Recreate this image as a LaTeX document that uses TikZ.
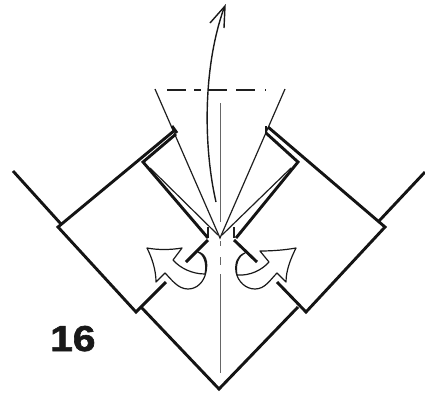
\documentclass[tikz,border=0pt]{standalone}
\usepackage{fontspec}
\setmainfont{Liberation Sans}
\newfontfamily\heavyfont[FakeBold=1.6]{Liberation Sans Bold}
\tikzset{
  thick edge/.style={line width=2.9pt,line cap=butt,line join=miter,draw=black!92},
  thin edge/.style={line width=1.2pt,draw=black!88},
  hair/.style={line width=.8pt,draw=black!60},
  foldarrow/.style={line width=1.2pt,fill=white,draw=black!90,line join=round},
  stepnum/.style={font=\heavyfont\fontsize{36}{36}\selectfont,text=black!90,inner sep=0pt,xscale=1.13}
}
\begin{document}
\begin{tikzpicture}[x=1pt,y=-1pt]
\useasboundingbox (0,0) rectangle (425,392);
% centre crease
\draw[hair] (220,103) -- (220,222);
\draw[hair] (220,241) -- (220,246) (220,257) -- (220,265) (220,274) -- (220,373);
% thin cone
\draw[thin edge] (155,89) -- (220,238) -- (285,89);
\draw[thin edge,dash pattern=on 19pt off 8pt on 7pt off 7pt on 19pt off 9pt on 19pt off 10pt on 1pt off 100pt] (167,90) -- (284,90);
\draw[thin edge] (150,168) -- (218,235);
\draw[thin edge] (291,168) -- (222,235);
\draw[thin edge] (208,227) -- (208,238) (234,227) -- (234,238);
% outer outline
\draw[thick edge] (13,171) -- (61,224);
\draw[thick edge] (175,130) -- (58,227) -- (136,312) -- (166,282);
\draw[thick edge] (172,126) -- (177,133);
\draw[thick edge] (176,134) -- (143,162) -- (208,238);
\draw[thick edge] (141,307) -- (219,389) -- (298,307);
\draw[thick edge] (425,172) -- (379,221);
\draw[thick edge] (268,127) -- (385,227) -- (306,312) -- (277,282);
\draw[thick edge] (266,126) -- (266,134);
\draw[thick edge] (266,133) -- (298,162) -- (236,238);
% left arrow
\draw[foldarrow] (147,248) .. controls (158,250) and (170,250) .. (182,248) -- (173,260)
  .. controls (180,268) and (192,274) .. (205,274)
  .. controls (207,265) and (205,255) .. (198,252)
  .. controls (206,254) and (208,262) .. (206,272)
  .. controls (204,282) and (197,289) .. (188,289)
  .. controls (178,289) and (172,280) .. (165,273) -- (156,282)
  .. controls (156,270) and (152,258) .. (147,248) -- cycle;
\draw[thick edge] (208,240) -- (186,262);
% right arrow
\draw[foldarrow] (296,248) .. controls (285,250) and (272,251) .. (260,251) -- (269,262)
  .. controls (262,270) and (250,276) .. (237,275)
  .. controls (235,265) and (238,256) .. (245,253)
  .. controls (237,256) and (235,263) .. (236,272)
  .. controls (238,282) and (246,289) .. (255,289)
  .. controls (265,289) and (270,280) .. (277,273) -- (286,282)
  .. controls (286,270) and (291,258) .. (296,248) -- cycle;
\draw[thick edge] (234,240) -- (257,262);
% large lift arrow
\draw[line width=1.4pt,draw=black!90] (216,202) .. controls (204,150) and (202,70) .. (224,8);
\draw[line width=1.4pt,draw=black!90] (210,23) -- (225,6) -- (224,28);
% number
\node[stepnum,anchor=base west] (num) at (50,351) {16};
\end{tikzpicture}
\end{document}
